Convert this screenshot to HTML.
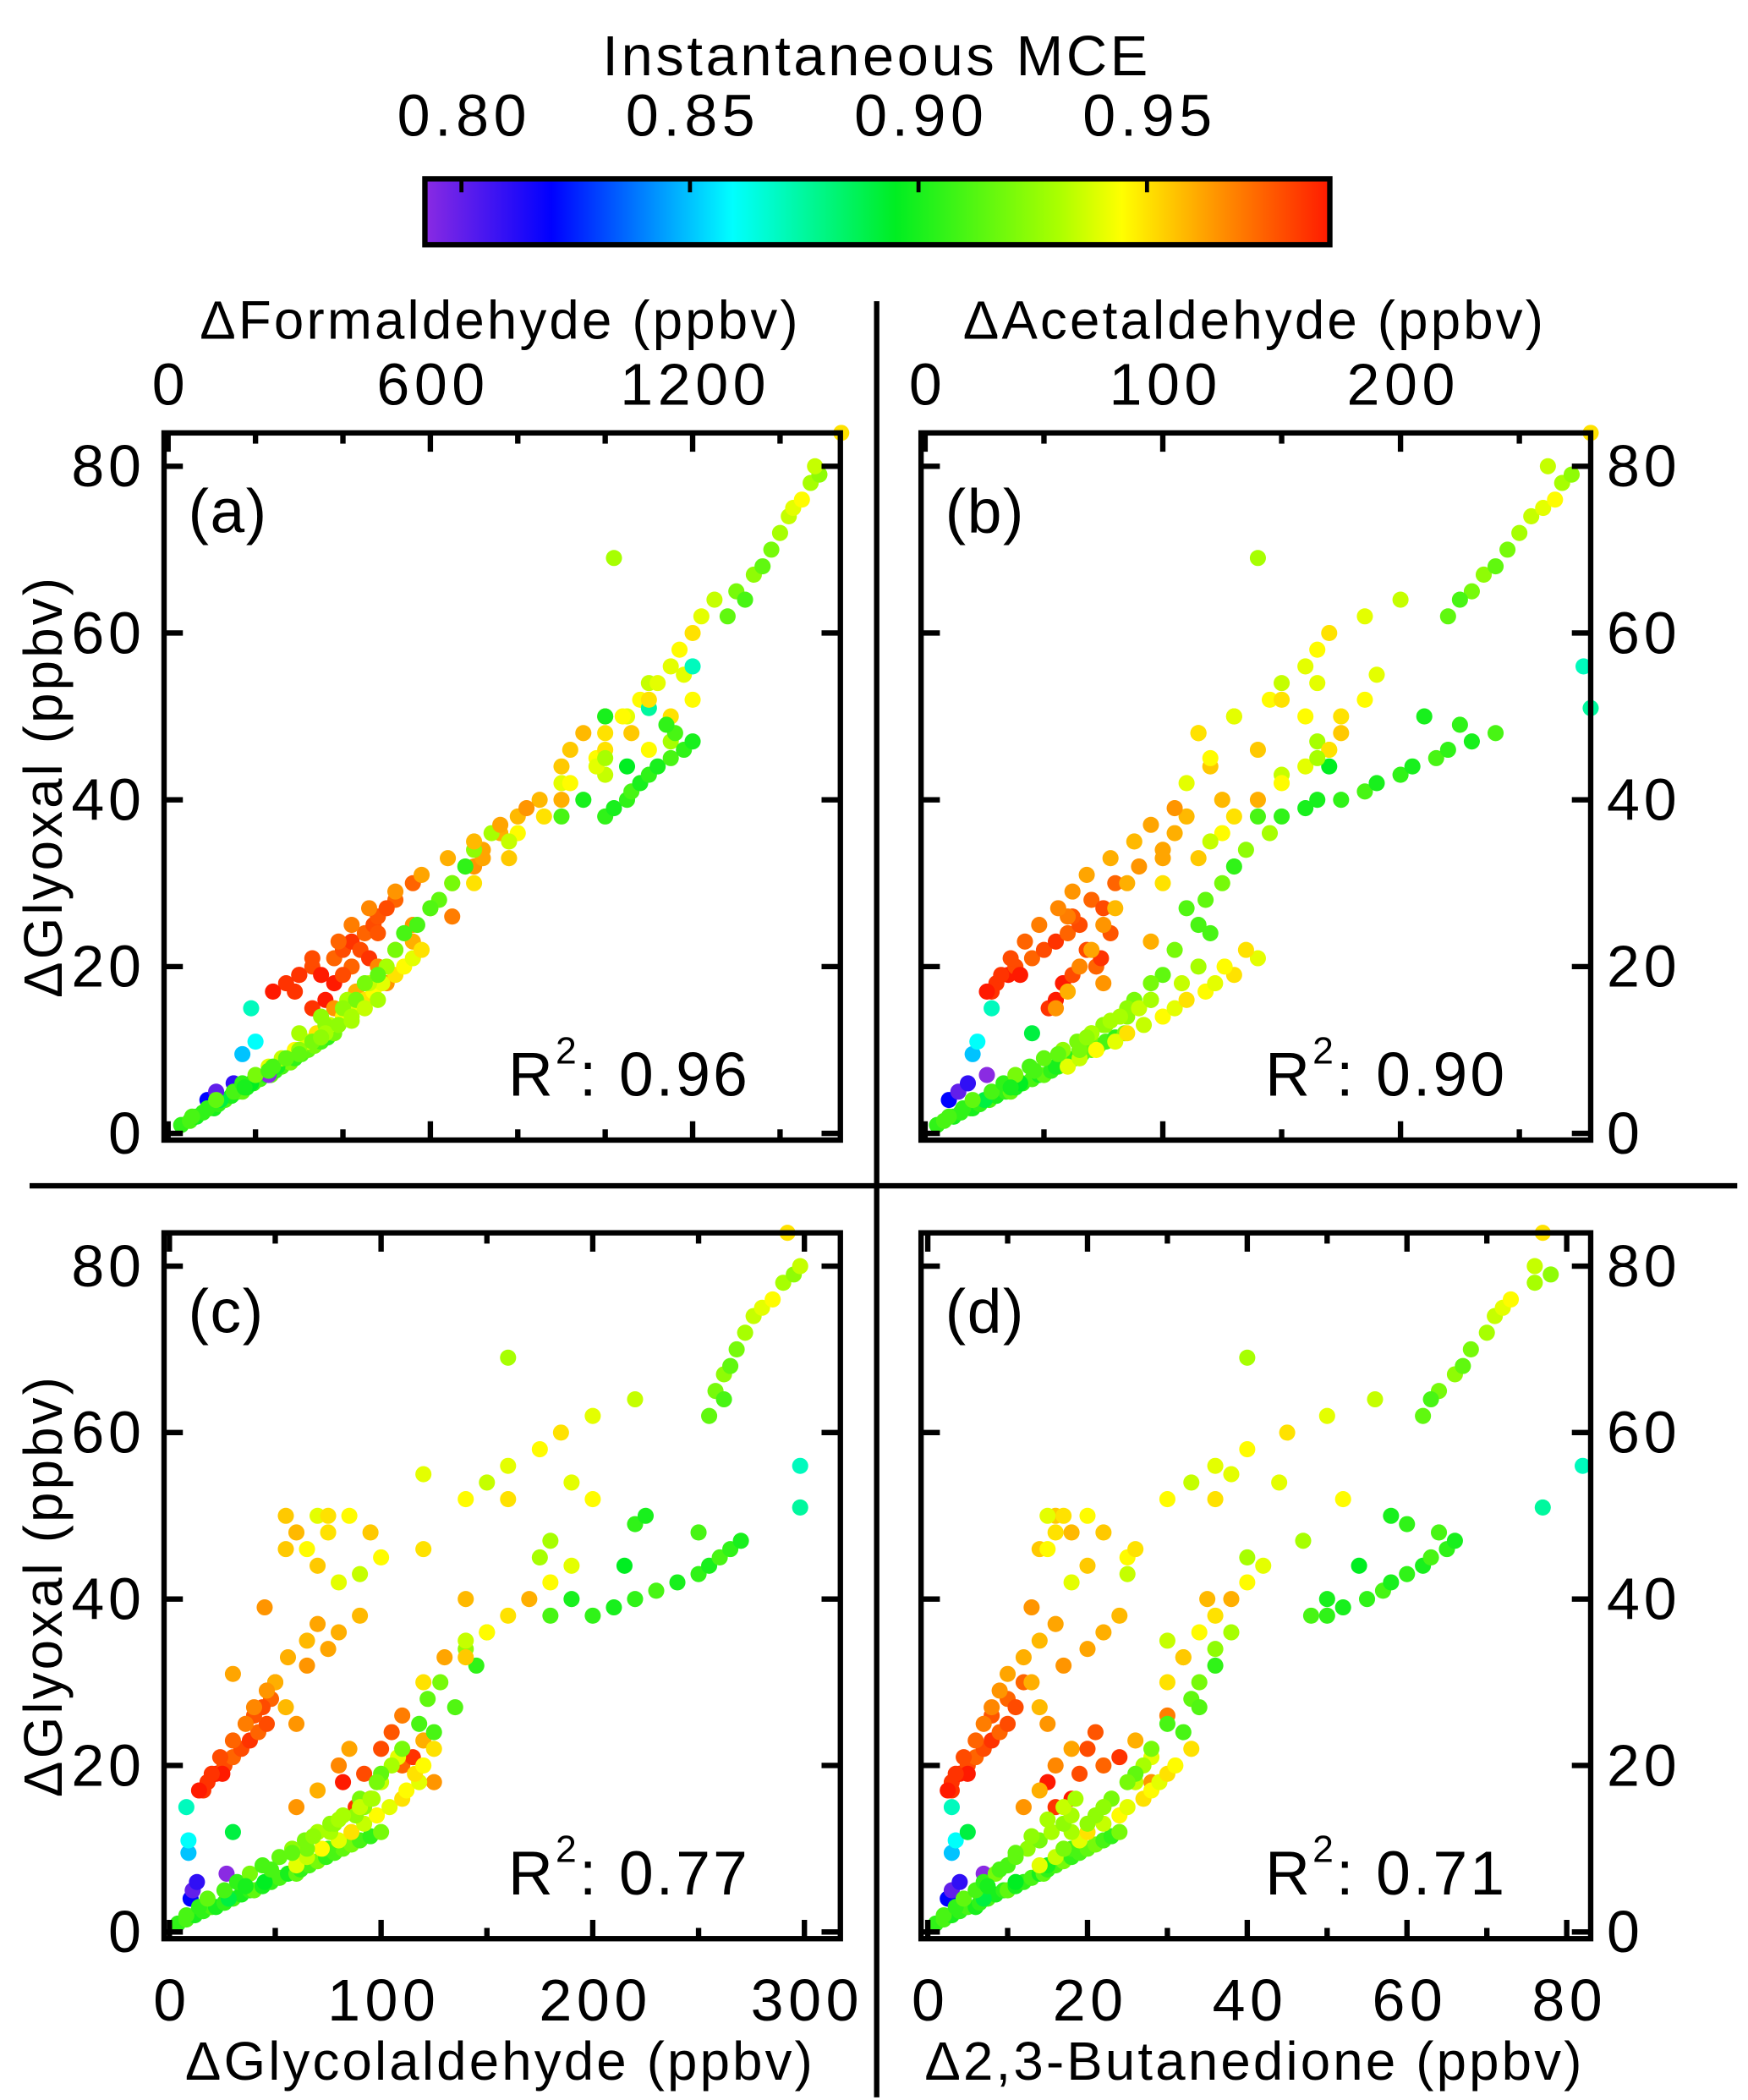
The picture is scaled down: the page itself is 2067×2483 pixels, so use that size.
<!DOCTYPE html>
<html><head><meta charset="utf-8"><style>html,body{margin:0;padding:0;background:#fff}svg{display:block}text{font-family:"Liberation Sans",sans-serif;fill:#000}</style></head>
<body>
<svg id="chart" width="2067" height="2483" viewBox="0 0 1300 1562" preserveAspectRatio="none" xmlns="http://www.w3.org/2000/svg">
<defs>
<linearGradient id="cb" x1="0" x2="1" y1="0" y2="0">
<stop offset="0" stop-color="#8a2be2"/><stop offset="0.14" stop-color="#0000ff"/><stop offset="0.34" stop-color="#00ffff"/><stop offset="0.52" stop-color="#00ee22"/><stop offset="0.7" stop-color="#aaff00"/><stop offset="0.77" stop-color="#ffff00"/><stop offset="0.87" stop-color="#ff9900"/><stop offset="1" stop-color="#ff1a00"/>
</linearGradient>
</defs>
<text x="652" y="56" font-size="42" letter-spacing="2.3" text-anchor="middle">Instantaneous MCE</text>
<rect x="316" y="133" width="673" height="49" fill="url(#cb)" stroke="#000" stroke-width="4"/>
<g id="cbticks"></g>
<line x1="652" y1="224" x2="652" y2="1560" stroke="#000" stroke-width="4"/>
<line x1="22" y1="882" x2="1292" y2="882" stroke="#000" stroke-width="4"/>
<g id="panels"></g>
</svg>
<script>
const cbTicks=[0.80,0.85,0.90,0.95];
const cbDomain=[0.792,0.99];
// shared samples
const glyoxal=[1,1.5,2,2.5,3,3,3.5,4,4.5,5,5,5.5,6,6.5,7,7,7.5,8,8.5,9,9.5,10,10.5,11,11.5,12,4,6,8,10,
4,5,6,7,9.5,11,15,12,
18,19,20,17,21,22,23,19,24,25,26,28,30,27,15,16,22,20,18,24,21,19,
15,17,20,22,25,27,30,32,34,36,38,44,48,50,26,18,23,33,40,46,
8,9,10,11,12,13,14,15,16,17,18,19,20,21,22,12,14,16,18,20,
10,13,16,19,22,25,28,30,34,36,24,27,32,18,15,
42,45,48,50,52,54,56,58,60,62,64,69,46,50,55,43,47,52,
38,39,40,41,42,43,44,45,46,47,48,49,40,44,38,50,
62,65,67,68,70,72,74,75,76,78,79,80,84,64,
51,56,
2,3,4,5,6,7,8,9,10,11,12,13,14,5.5,7.5,9.5,11.5,13.5,15,16,
17,19,21,23,25,27,29,31,33,35,37,39,
30,33,36,38,40,42,44,46,48,50,52,54,35,45];
const mce=[0.905,0.91,0.9,0.905,0.91,0.9,0.905,0.91,0.9,0.905,0.915,0.9,0.905,0.91,0.9,0.915,0.905,0.91,0.92,0.905,0.91,0.915,0.92,0.91,0.905,0.92,0.89,0.895,0.9,0.91,
0.82,0.80,0.81,0.79,0.85,0.86,0.87,0.89,
0.985,0.99,0.98,0.985,0.975,0.98,0.985,0.99,0.975,0.98,0.978,0.975,0.975,0.98,0.985,0.99,0.98,0.975,0.99,0.978,0.985,0.98,
0.965,0.96,0.968,0.962,0.965,0.958,0.96,0.965,0.962,0.96,0.958,0.955,0.958,0.955,0.97,0.965,0.96,0.962,0.958,0.955,
0.94,0.935,0.945,0.94,0.95,0.935,0.945,0.94,0.95,0.945,0.94,0.95,0.945,0.94,0.95,0.93,0.925,0.93,0.935,0.93,
0.92,0.925,0.92,0.915,0.92,0.91,0.915,0.92,0.925,0.93,0.91,0.912,0.905,0.92,0.925,
0.94,0.945,0.95,0.94,0.945,0.935,0.94,0.945,0.95,0.94,0.935,0.93,0.945,0.95,0.94,0.935,0.93,0.945,
0.905,0.9,0.905,0.91,0.9,0.905,0.9,0.91,0.905,0.9,0.91,0.905,0.9,0.895,0.91,0.9,
0.915,0.92,0.925,0.915,0.92,0.93,0.935,0.94,0.945,0.93,0.925,0.935,0.95,0.91,
0.875,0.87,
0.91,0.905,0.915,0.91,0.905,0.92,0.91,0.915,0.925,0.92,0.93,0.925,0.93,0.9,0.91,0.915,0.925,0.93,0.935,0.93,
0.99,0.985,0.98,0.975,0.97,0.968,0.965,0.962,0.96,0.958,0.962,0.965,
0.95,0.955,0.945,0.95,0.96,0.945,0.94,0.95,0.955,0.945,0.95,0.94,0.935,0.93];
const formaldehyde=[30,50,65,80,95,105,115,130,145,160,170,180,195,210,225,235,245,260,280,290,305,320,335,350,365,380,120,190,250,300,
90,110,150,230,170,200,190,350,
270,300,330,290,380,400,420,350,450,470,480,520,560,500,330,360,440,420,380,480,460,400,
380,430,480,520,560,600,650,700,720,760,800,900,950,1000,650,500,560,720,850,920,
230,260,290,320,340,370,400,420,450,470,490,520,540,560,580,300,350,410,460,500,
300,360,430,480,520,570,620,650,700,740,540,600,680,450,400,
900,980,1000,1050,1080,1100,1150,1170,1200,1220,1250,1020,1100,1150,1180,1000,1150,1200,
1000,1020,1050,1060,1080,1100,1120,1150,1180,1200,1160,1140,950,1050,900,1000,
1280,1300,1340,1360,1380,1400,1420,1430,1450,1470,1490,1480,1540,1320,
1100,1200,
55,90,110,150,170,200,240,270,300,330,360,390,420,175,230,300,350,420,450,480,
240,300,330,390,420,460,520,580,640,700,760,820,
700,780,800,860,900,920,980,1000,1060,1040,1100,1120,780,1000];
const acetaldehyde=[5,8,12,15,19,20,23,27,30,34,36,38,41,45,48,50,53,56,60,63,66,70,73,76,80,84,25,40,55,65,
10,14,18,26,20,22,28,45,
30,35,38,28,45,50,55,40,60,65,62,70,80,75,52,55,68,72,58,78,74,62,
55,60,65,70,75,80,85,90,100,105,110,120,115,130,60,75,95,100,125,140,
60,65,72,80,85,92,100,105,110,118,122,130,126,140,135,70,85,95,108,115,
65,75,88,100,105,115,118,125,135,145,120,110,130,95,85,
110,120,115,130,145,150,160,165,170,185,200,140,170,175,190,150,165,185,
150,160,175,185,190,200,205,215,220,230,240,225,165,170,140,210,
220,230,235,240,245,250,255,260,265,268,272,262,280,225,
280,277,
10,16,20,28,33,38,44,50,58,64,70,76,82,36,46,56,68,78,90,95,
26,32,36,42,48,56,62,68,78,88,95,105,
100,115,125,130,140,150,160,170,175,160,150,165,120,165];
const glycolaldehyde=[4,8,12,16,20,22,26,30,34,38,40,44,48,52,56,60,62,66,70,74,78,82,86,90,95,100,28,45,60,75,
10,11,13,27,9,9,8,30,
18,22,26,16,30,34,38,25,42,46,40,48,50,44,88,95,100,110,82,105,115,92,
60,70,80,85,60,55,50,65,75,80,90,70,60,55,110,125,120,130,140,55,
60,65,72,80,86,92,98,104,110,112,118,116,120,108,125,76,88,96,100,105,
65,78,90,100,110,118,122,128,140,150,125,135,145,98,92,
80,100,75,70,140,150,160,175,185,200,220,160,65,75,120,90,180,200,
200,210,220,230,240,250,255,260,265,270,250,220,190,215,180,225,
255,258,262,265,268,272,276,280,285,290,295,298,292,262,
298,298,
8,14,18,26,32,38,44,52,58,64,70,76,82,36,48,58,68,80,90,95,
14,20,24,30,36,40,46,30,56,65,70,45,
120,140,150,160,170,180,190,120,95,85,160,190,140,175];
const butanedione=[1,2,3,4,5,6,6.5,7.5,8.5,9.5,10,11,12,13,14,14.5,15,16,17,18,19,20,21,22,23,24,7,11,15,18,
2.5,3,4,7,3,3.5,3,5,
3,4,5,3,6,7,8,5,9,10,8,10,12,11,16,18,20,22,15,21,24,19,
12,14,16,18,15,14,13,17,20,22,24,20,18,16,30,28,26,32,35,14,
14,16,17,19,20,22,24,25,27,28,29,30,31,28,33,18,21,23,26,27,
17,20,23,26,28,30,33,34,36,38,32,34,36,25,22,
18,25,16,15,30,33,36,40,45,50,56,40,15,17,38,25,47,52,
50,52,55,57,58,60,62,63,65,66,64,60,50,54,48,58,
62,64,66,67,68,70,71,72,73,76,78,76,77,63,
77,82,
2,3.5,4.5,6,7,8.5,10,11,12.5,14,15.5,17,18,7.5,9,11,13,15,17,18.5,
2.5,3.5,4.5,6,7,8,9,10,12,14,16,13,
30,32,34,36,38,40,42,26,22,20,36,44,30,40];
const yTicks=[0,20,40,60,80];
const xTicksA=[0,600,1200], xTicksB=[0,100,200], xTicksC=[0,100,200,300], xTicksD=[0,20,40,60,80];
const r2Labels=["0.96","0.90","0.77","0.71"];

const NS="http://www.w3.org/2000/svg";
function mk(tag,attrs,parent){const e=document.createElementNS(NS,tag);for(const k in attrs)e.setAttribute(k,attrs[k]);parent.appendChild(e);return e;}
function lin(d0,d1,r0,r1){return v=>r0+(v-d0)/(d1-d0)*(r1-r0);}
const stops=[[0,[138,43,226]],[0.14,[0,0,255]],[0.34,[0,255,255]],[0.52,[0,238,34]],[0.7,[170,255,0]],[0.77,[255,255,0]],[0.87,[255,153,0]],[1,[255,26,0]]];
function color(m){let t=(m-cbDomain[0])/(cbDomain[1]-cbDomain[0]);t=Math.max(0,Math.min(1,t));
for(let i=1;i<stops.length;i++){if(t<=stops[i][0]){const a=stops[i-1],b=stops[i];const f=(t-a[0])/(b[0]-a[0]);const c=a[1].map((v,j)=>Math.round(v+(b[1][j]-v)*f));return `rgb(${c})`;}}return 'rgb(255,26,0)';}

const cbg=document.getElementById('cbticks');
const cbx=lin(cbDomain[0],cbDomain[1],316,989);
cbTicks.forEach(t=>{const x=cbx(t);
const l=mk('line',{x1:x,y1:133,x2:x,y2:143,stroke:'#000','stroke-width':3},cbg);


const tx=mk('text',{x:x+2,y:101,'font-size':44,'letter-spacing':3.5,'text-anchor':'middle'},cbg);tx.textContent=t.toFixed(2);

});

const panels=[
{id:'a',box:[122,322,625,848],xd:[0,1538],xr:[125,625],ticks:xTicksA,minor:200,xs:formaldehyde,top:true,left:true,title:'\u0394Formaldehyde (ppbv)',tx:372},
{id:'b',box:[685,322,1183,848],xd:[0,280],xr:[688,1183],ticks:xTicksB,minor:50,xs:acetaldehyde,top:true,left:false,title:'\u0394Acetaldehyde (ppbv)',tx:933},
{id:'c',box:[122,917,625,1442],xd:[0,317],xr:[126,625],ticks:xTicksC,minor:50,xs:glycolaldehyde,top:false,left:true,title:'\u0394Glycolaldehyde (ppbv)',tx:372},
{id:'d',box:[685,917,1183,1442],xd:[0,83],xr:[690,1183],ticks:xTicksD,minor:10,xs:butanedione,top:false,left:false,title:'\u03942,3-Butanedione (ppbv)',tx:933}];
const root=document.getElementById('panels');
panels.forEach((p,pi)=>{
const g=mk('g',{},root);


const [x0,y0,x1,y1]=p.box;
const X=lin(p.xd[0],p.xd[1],p.xr[0],p.xr[1]);
const Y=lin(0,84,y1-5,y0);
const pts=mk('g',{},g);


p.xs.forEach((xv,i)=>{const c=mk('circle',{cx:X(xv),cy:Y(glyoxal[i]),r:6,fill:color(mce[i])},pts);

});
const fr=mk('rect',{x:x0,y:y0,width:x1-x0,height:y1-y0,fill:'none',stroke:'#000','stroke-width':4},g);


yTicks.forEach(t=>{const y=Y(t);
mk('line',{x1:x0,y1:y,x2:x0+14,y2:y,stroke:'#000','stroke-width':4},g);
mk('line',{x1:x1,y1:y,x2:x1-14,y2:y,stroke:'#000','stroke-width':4},g);
const tx=mk('text',{x:p.left?108:1195,y:y+15,'font-size':44,'letter-spacing':3,'text-anchor':p.left?'end':'start'},g);tx.textContent=t;

});
for(let v=0;v<=p.xd[1];v+=p.minor){const x=X(v);const major=p.ticks.includes(v);const L=major?14:8;
mk('line',{x1:x,y1:y0,x2:x,y2:y0+L,stroke:'#000','stroke-width':4},g);
mk('line',{x1:x,y1:y1,x2:x,y2:y1-L,stroke:'#000','stroke-width':4},g);}
p.ticks.forEach(t=>{const tx=mk('text',{x:X(t)+2,y:p.top?301:1503,'font-size':44,'letter-spacing':3.5,'text-anchor':'middle'},g);tx.textContent=t;

});
const tt=mk('text',{x:p.tx,y:p.top?252:1547,'font-size':40,'letter-spacing':2,'text-anchor':'middle'},g);tt.textContent=p.title;


const pl=mk('text',{x:x0+18,y:y0+74,'font-size':46,'letter-spacing':1},g);pl.textContent='('+p.id+')';


const r=mk('text',{x:x0+256,y:y1-33,'font-size':46,'letter-spacing':2},g);


r.innerHTML='R<tspan dy="-24" font-size="28">2</tspan><tspan dy="24">: '+r2Labels[pi]+'</tspan>';
if(p.left){const yt=mk('text',{x:0,y:0,'font-size':40,'letter-spacing':2,'text-anchor':'middle',transform:`translate(46,${(y0+y1)/2}) rotate(-90)`},g);yt.textContent='\u0394Glyoxal (ppbv)';

}
});
</script>
</body></html>
